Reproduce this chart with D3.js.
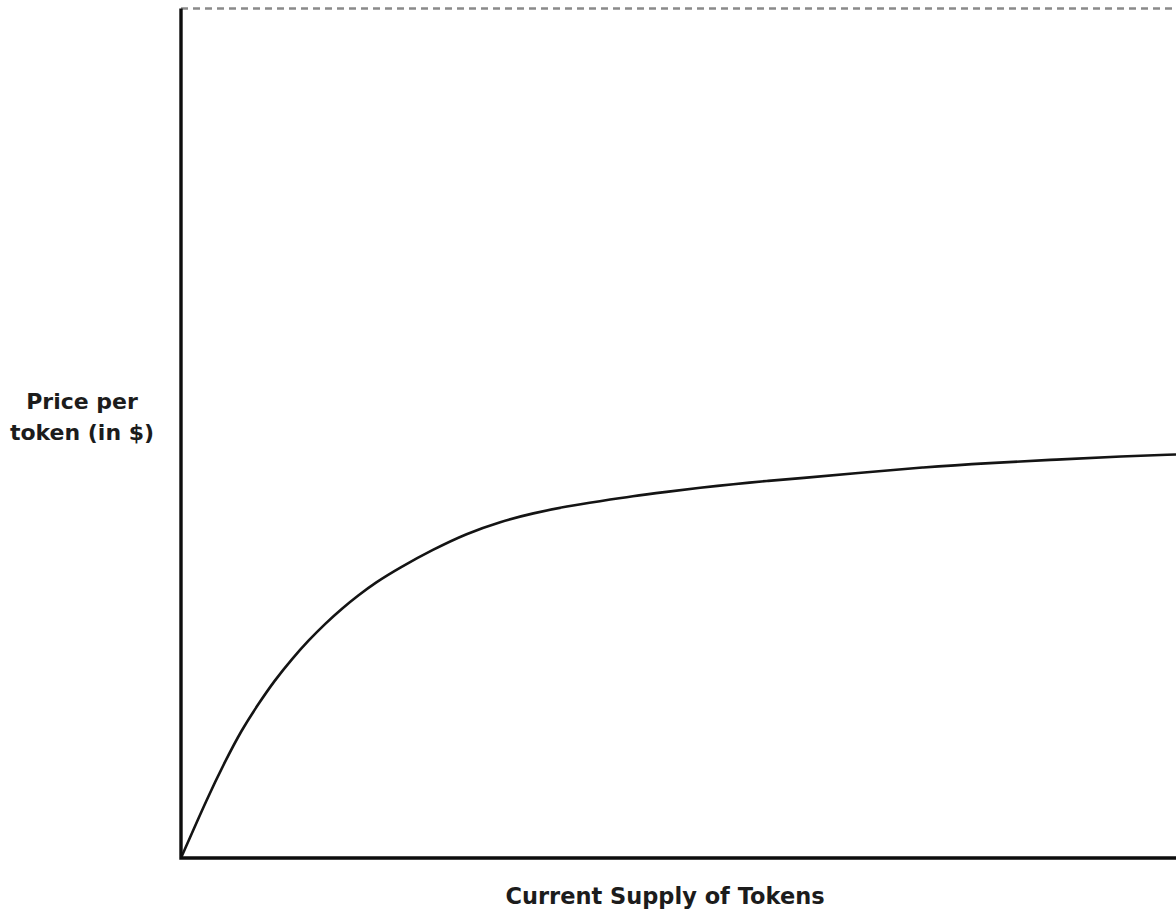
<!DOCTYPE html>
<html>
<head>
<meta charset="utf-8">
<script src="https://cdn.jsdelivr.net/npm/d3@7"></script>
<style>
  html, body { margin: 0; padding: 0; background: #fff; }
  svg { display: block; }
  text { font-family: "DejaVu Sans", Verdana, sans-serif; font-weight: bold; fill: #1c1c1c; }
</style>
</head>
<body>
<div id="chart"></div>
<script>
// 数据：供应量（%）与价格（%）
const supply = [0, 2.7, 4.4, 6.1, 7.7, 9.4, 11.2, 12.8, 14.5, 16.2, 17.8, 19.5, 22.0, 25.3, 28.7,
  32.1, 35.4, 38.8, 42.1, 45.4, 48.8, 52.2, 55.5, 58.9, 62.2, 67.9, 74.6, 81.3, 88.0, 94.7, 100];
const price = [0, 7.2, 11.3, 15.1, 18.0, 20.9, 23.5, 25.6, 27.6, 29.4, 30.9, 32.4, 34.2, 36.3, 38.2,
  39.6, 40.6, 41.4, 42.0, 42.6, 43.1, 43.6, 44.0, 44.4, 44.7, 45.3, 46.0, 46.5, 46.9, 47.3, 47.5];
const yLabelLines = ['Price per', 'token (in $)'];
const xLabel = 'Current Supply of Tokens';
const capValue = 100; // 顶部虚线

const width = 1176, height = 915;
const svg = d3.select('#chart').append('svg')
  .attr('width', width)
  .attr('height', height);

const x = d3.scaleLinear().domain([0, 100]).range([181, 1176]);
const y = d3.scaleLinear().domain([0, 100]).range([858, 8.5]);

// 顶部虚线
svg.append('line')
  .attr('x1', x(0)).attr('x2', x(100))
  .attr('y1', y(capValue)).attr('y2', y(capValue))
  .attr('stroke', '#8a8a8a')
  .attr('stroke-width', 2.5)
  .attr('stroke-dasharray', '7,5');

// 曲线
const data = supply.map((s, i) => ({ s, p: price[i] }));
const line = d3.line()
  .x(d => x(d.s))
  .y(d => y(d.p))
  .curve(d3.curveBasis);

svg.append('path')
  .datum(data)
  .attr('d', line)
  .attr('fill', 'none')
  .attr('stroke', '#141414')
  .attr('stroke-width', 2.6);

// 坐标轴
svg.append('path')
  .attr('d', `M${x(0)},${y(100)} L${x(0)},${y(0)} L${x(100)},${y(0)}`)
  .attr('fill', 'none')
  .attr('stroke', '#0d0d0d')
  .attr('stroke-width', 3.4)
  .attr('stroke-linejoin', 'miter');

// 标签
svg.append('text')
  .attr('x', 665).attr('y', 904)
  .attr('text-anchor', 'middle')
  .style('font-size', '22.5px')
  .text(xLabel);

svg.append('g')
  .selectAll('text')
  .data(yLabelLines)
  .enter()
  .append('text')
  .attr('x', 82)
  .attr('y', (d, i) => 409 + i * 31)
  .attr('text-anchor', 'middle')
  .style('font-size', '22px')
  .text(d => d);
</script>
</body>
</html>
